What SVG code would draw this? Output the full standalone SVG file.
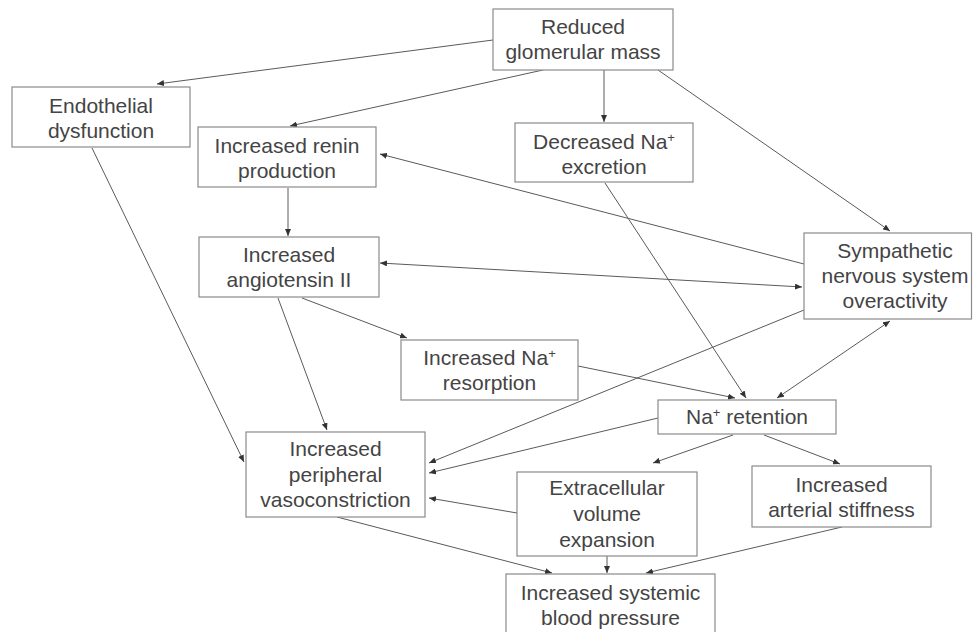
<svg xmlns="http://www.w3.org/2000/svg" width="973" height="632" viewBox="0 0 973 632">
<style>
  .box { fill: #fff; stroke: #8a8a8a; stroke-width: 1.2; }
  .t { font-family: "Liberation Sans", Arial, sans-serif; font-size: 21px; fill: #444; text-anchor: middle; }
  .sup { font-size: 13px; }
  .c line { stroke: #5a5a5a; stroke-width: 1; fill: none; marker-end: url(#ah); }
  .c line.bi { marker-start: url(#ah); }
</style>
<defs>
  <marker id="ah" markerUnits="userSpaceOnUse" markerWidth="8" markerHeight="6" refX="7" refY="3" orient="auto-start-reverse">
    <path d="M0,0 L7,3 L0,6 z" fill="#333"/>
  </marker>
</defs>
<rect width="973" height="632" fill="#fff"/>

<g id="connectors" class="c">
  <line x1="493" y1="40" x2="157" y2="84"/>
  <line x1="543" y1="70" x2="290" y2="126"/>
  <line x1="604" y1="70" x2="604" y2="122"/>
  <line x1="658" y1="70" x2="890" y2="231"/>
  <line x1="92" y1="148" x2="244" y2="462"/>
  <line x1="288" y1="188" x2="288" y2="236"/>
  <line x1="804" y1="264" x2="380" y2="154"/>
  <line class="bi" x1="380" y1="263" x2="802" y2="287"/>
  <line x1="278" y1="298" x2="327" y2="430"/>
  <line x1="302" y1="298" x2="407" y2="338"/>
  <line x1="605" y1="183" x2="746" y2="398"/>
  <line x1="578" y1="366" x2="735" y2="398"/>
  <line class="bi" x1="777" y1="398" x2="890" y2="321"/>
  <line x1="804" y1="310" x2="429" y2="463"/>
  <line x1="658" y1="418" x2="429" y2="473"/>
  <line x1="733" y1="435" x2="653" y2="463"/>
  <line x1="764" y1="435" x2="840" y2="464"/>
  <line x1="517" y1="513" x2="429" y2="498"/>
  <line x1="337" y1="517" x2="552" y2="573"/>
  <line x1="607" y1="556" x2="607" y2="573"/>
  <line x1="842" y1="527" x2="646" y2="573"/>
</g>

<g id="reduced">
  <rect class="box" x="493" y="9" width="180" height="61"/>
  <text class="t" x="583" y="34">Reduced</text>
  <text class="t" x="583" y="59">glomerular mass</text>
</g>
<g id="endothelial">
  <rect class="box" x="12" y="87" width="178" height="60"/>
  <text class="t" x="101" y="113">Endothelial</text>
  <text class="t" x="101" y="138">dysfunction</text>
</g>
<g id="renin">
  <rect class="box" x="198" y="127" width="178" height="60"/>
  <text class="t" x="287" y="153">Increased renin</text>
  <text class="t" x="287" y="178">production</text>
</g>
<g id="decreased-na">
  <rect class="box" x="515" y="123" width="178" height="59"/>
  <text class="t" x="604" y="149">Decreased Na<tspan class="sup" dy="-7">+</tspan></text>
  <text class="t" x="604" y="174">excretion</text>
</g>
<g id="angiotensin">
  <rect class="box" x="199" y="237" width="180" height="60"/>
  <text class="t" x="289" y="262">Increased</text>
  <text class="t" x="289" y="287">angiotensin II</text>
</g>
<g id="sympathetic">
  <rect class="box" x="804" y="233" width="167.5" height="86"/>
  <text class="t" x="895" y="258">Sympathetic</text>
  <text class="t" x="895" y="283">nervous system</text>
  <text class="t" x="895" y="308">overactivity</text>
</g>
<g id="resorption">
  <rect class="box" x="401" y="340" width="177" height="60"/>
  <text class="t" x="489.5" y="365">Increased Na<tspan class="sup" dy="-7">+</tspan></text>
  <text class="t" x="489.5" y="390">resorption</text>
</g>
<g id="na-retention">
  <rect class="box" x="658" y="400" width="178" height="34"/>
  <text class="t" x="747" y="424">Na<tspan class="sup" dy="-7">+</tspan><tspan dy="7"> retention</tspan></text>
</g>
<g id="peripheral">
  <rect class="box" x="246" y="432" width="179" height="85"/>
  <text class="t" x="335.5" y="456">Increased</text>
  <text class="t" x="335.5" y="482">peripheral</text>
  <text class="t" x="335.5" y="507">vasoconstriction</text>
</g>
<g id="extracellular">
  <rect class="box" x="517" y="472" width="180" height="84"/>
  <text class="t" x="607" y="495">Extracellular</text>
  <text class="t" x="607" y="521">volume</text>
  <text class="t" x="607" y="547">expansion</text>
</g>
<g id="arterial">
  <rect class="box" x="752" y="466" width="179" height="61"/>
  <text class="t" x="841.5" y="492">Increased</text>
  <text class="t" x="841.5" y="517">arterial stiffness</text>
</g>
<g id="systemic">
  <rect class="box" x="506" y="574" width="209" height="70"/>
  <text class="t" x="610.5" y="600">Increased systemic</text>
  <text class="t" x="610.5" y="625">blood pressure</text>
</g>
</svg>
